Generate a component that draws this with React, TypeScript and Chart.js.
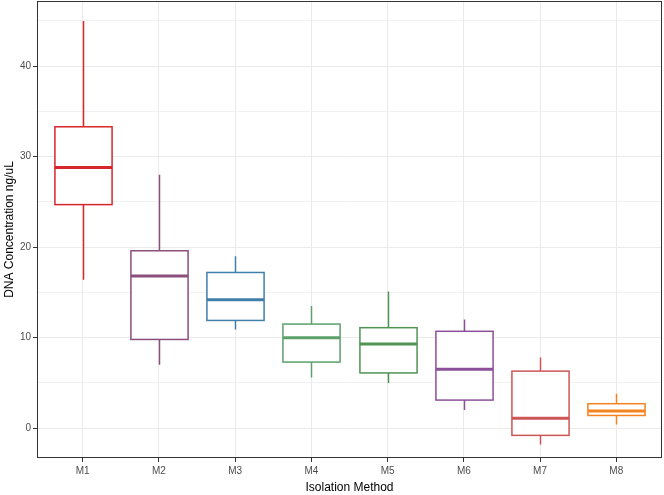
import React, { useEffect, useRef } from "react";
import { Chart, registerables } from "chart.js";

Chart.register(...registerables);

const categories = ["M1", "M2", "M3", "M4", "M5", "M6", "M7", "M8"];
const whiskerLow = [16.4, 7.0, 10.9, 5.6, 5.0, 2.0, -1.8, 0.4];
const q1 = [24.7, 9.8, 11.9, 7.3, 6.1, 3.1, -0.8, 1.4];
const median = [28.8, 16.8, 14.2, 10.0, 9.3, 6.5, 1.1, 1.9];
const q3 = [33.3, 19.6, 17.2, 11.5, 11.1, 10.7, 6.3, 2.7];
const whiskerHigh = [45.0, 28.0, 19.0, 13.5, 15.1, 12.0, 7.8, 3.8];
const colors = ["#D7262B", "#8B4F7D", "#3F7FAA", "#5BA06A", "#4F9455", "#8C4F9A", "#CD5555", "#F58220"];
const yTicks = [0, 5, 10, 15, 20, 25, 30, 35, 40, 45];

const boxPlugin = {
  id: "boxes",
  afterDatasetsDraw(chart: any) {
    const { ctx, scales, chartArea } = chart;
    const x = scales.x;
    const y = scales.y;
    const half = x.getPixelForValue(1.375) - x.getPixelForValue(1);
    ctx.save();
    ctx.beginPath();
    ctx.rect(chartArea.left, chartArea.top, chartArea.right - chartArea.left, chartArea.bottom - chartArea.top);
    ctx.clip();
    categories.forEach((_, i) => {
      const cx = Math.round(x.getPixelForValue(i + 1)) + 0.5;
      const c = colors[i];
      ctx.strokeStyle = c;
      ctx.lineWidth = 1.5;
      ctx.beginPath();
      ctx.moveTo(cx, y.getPixelForValue(whiskerHigh[i]));
      ctx.lineTo(cx, y.getPixelForValue(q3[i]));
      ctx.moveTo(cx, y.getPixelForValue(q1[i]));
      ctx.lineTo(cx, y.getPixelForValue(whiskerLow[i]));
      ctx.stroke();
      const top = y.getPixelForValue(q3[i]);
      const bot = y.getPixelForValue(q1[i]);
      ctx.fillStyle = "#FFFFFF";
      ctx.fillRect(cx - half, top, 2 * half, bot - top);
      ctx.strokeRect(cx - half, top, 2 * half, bot - top);
      ctx.lineWidth = 3;
      ctx.beginPath();
      const my = y.getPixelForValue(median[i]);
      ctx.moveTo(cx - half, my);
      ctx.lineTo(cx + half, my);
      ctx.stroke();
    });
    ctx.restore();
    ctx.save();
    ctx.strokeStyle = "#333333";
    ctx.lineWidth = 1;
    ctx.strokeRect(chartArea.left + 0.5, chartArea.top + 0.5, chartArea.right - chartArea.left - 1, chartArea.bottom - chartArea.top - 1);
    ctx.restore();
  },
};

export default function App() {
  const ref = useRef<HTMLCanvasElement>(null);
  useEffect(() => {
    document.body.style.margin = "0";
    const chart = new Chart(ref.current as HTMLCanvasElement, {
      type: "scatter",
      data: {
        datasets: [
          {
            data: categories.map((_, i) => ({ x: i + 1, y: median[i] })),
            pointRadius: 0,
            showLine: false,
          },
        ],
      },
      options: {
        animation: false,
        responsive: false,
        maintainAspectRatio: false,
        layout: { padding: { left: 2, right: 2, top: 1, bottom: 0 } },
        plugins: { legend: { display: false }, tooltip: { enabled: false } },
        scales: {
          x: {
            type: "linear",
            min: 0.4,
            max: 8.6,
            afterBuildTicks: (s: any) => {
              s.ticks = categories.map((_, i) => ({ value: i + 1 }));
            },
            afterFit: (s: any) => {
              s.height = 37;
              s.paddingLeft = 0;
              s.paddingRight = 0;
            },
            grid: {
              color: "#EBEBEB",
              lineWidth: 1,
              tickColor: "#333333",
              tickLength: 4,
              tickWidth: 1,
              drawOnChartArea: true,
            },
            border: { display: false },
            ticks: {
              autoSkip: false,
              maxRotation: 0,
              padding: 3,
              color: "#4D4D4D",
              font: { family: "Liberation Sans, Arial, sans-serif", size: 10 },
              callback: (v: any) => categories[Math.round(Number(v)) - 1] ?? "",
            },
            title: {
              display: true,
              text: "Isolation Method",
              color: "#000000",
              padding: { top: 0, bottom: 0 },
              font: { family: "Liberation Sans, Arial, sans-serif", size: 12 },
            },
          },
          y: {
            type: "linear",
            min: -3.3,
            max: 47.2,
            afterBuildTicks: (s: any) => {
              s.ticks = yTicks.map((v) => ({ value: v }));
            },
            afterFit: (s: any) => {
              s.width = 35;
              s.paddingTop = 0;
              s.paddingBottom = 0;
            },
            grid: {
              color: "#EBEBEB",
              lineWidth: (c: any) => (c.tick && c.tick.value % 10 === 0 ? 1 : 0.7),
              tickColor: (c: any) => (c.tick && c.tick.value % 10 === 0 ? "#333333" : "rgba(0,0,0,0)"),
              tickLength: 4,
              tickWidth: 1,
            },
            border: { display: false },
            ticks: {
              autoSkip: false,
              padding: 2,
              color: "#4D4D4D",
              font: { family: "Liberation Sans, Arial, sans-serif", size: 10 },
              callback: (v: any) => (Number(v) % 10 === 0 ? String(v) : ""),
            },
            title: {
              display: true,
              text: "DNA Concentration ng/uL",
              color: "#000000",
              padding: { top: 0, bottom: 0 },
              font: { family: "Liberation Sans, Arial, sans-serif", size: 12 },
            },
          },
        },
      },
      plugins: [boxPlugin],
    });
    return () => chart.destroy();
  }, []);
  return (
    <div style={{ width: 664, height: 495 }}>
      <canvas ref={ref} width={664} height={495} style={{ width: 664, height: 495 }} />
    </div>
  );
}
